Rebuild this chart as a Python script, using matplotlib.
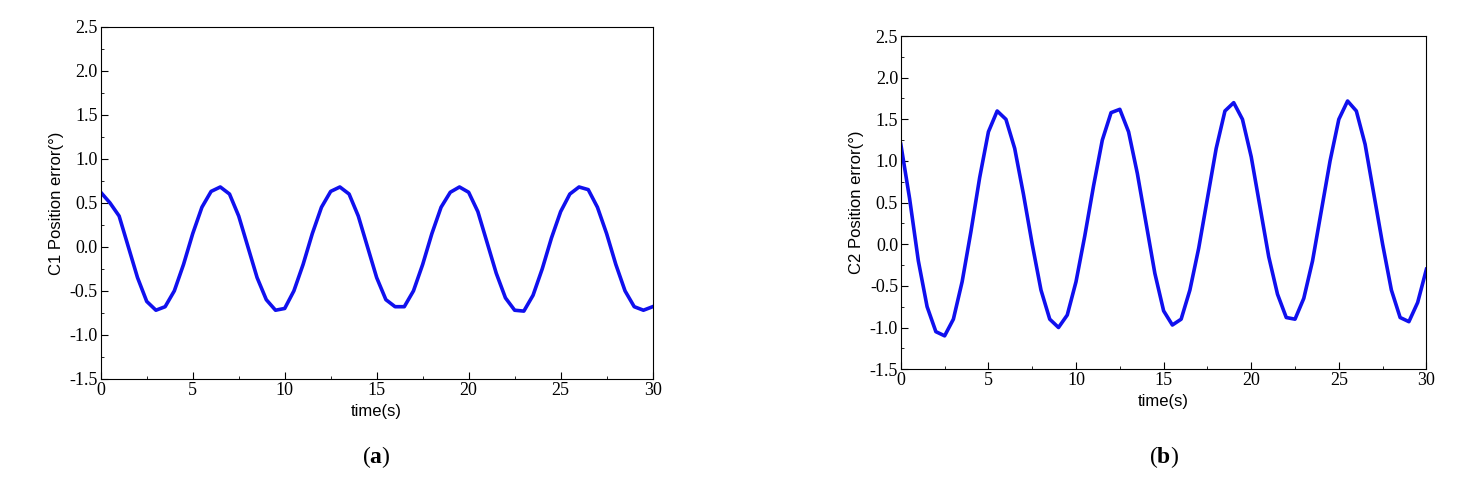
import numpy as np
import matplotlib
matplotlib.use("Agg")
import matplotlib.pyplot as plt
from matplotlib.ticker import FormatStrFormatter, AutoMinorLocator

plt.rcParams['font.family'] = ['Liberation Sans', 'DejaVu Sans']
plt.rcParams['mathtext.fontset'] = 'custom'
plt.rcParams['mathtext.bf'] = 'Liberation Serif:bold'

t = np.arange(0, 30.01, 0.5)
err_c1 = [0.62, 0.5, 0.35, 0.0, -0.35, -0.62, -0.72, -0.68, -0.5, -0.2, 0.15, 0.45, 0.63, 0.68,
          0.6, 0.35, 0.0, -0.35, -0.6, -0.72, -0.7, -0.5, -0.2, 0.15, 0.45, 0.63, 0.68, 0.6,
          0.35, 0.0, -0.35, -0.6, -0.68, -0.68, -0.5, -0.2, 0.15, 0.45, 0.62, 0.68, 0.62, 0.4,
          0.05, -0.3, -0.58, -0.72, -0.73, -0.55, -0.25, 0.1, 0.4, 0.6, 0.68, 0.65, 0.45, 0.15,
          -0.2, -0.5, -0.68, -0.72, -0.68]
err_c2 = [1.2, 0.55, -0.2, -0.75, -1.05, -1.1, -0.9, -0.45, 0.15, 0.8, 1.35, 1.6, 1.5, 1.15,
          0.6, 0.0, -0.55, -0.9, -1.0, -0.85, -0.45, 0.1, 0.7, 1.25, 1.58, 1.62, 1.35, 0.85,
          0.25, -0.35, -0.8, -0.97, -0.9, -0.55, -0.05, 0.55, 1.15, 1.6, 1.7, 1.5, 1.05, 0.45,
          -0.15, -0.6, -0.88, -0.9, -0.65, -0.2, 0.4, 1.0, 1.5, 1.72, 1.6, 1.2, 0.6, 0.0,
          -0.55, -0.88, -0.93, -0.7, -0.3]

fig = plt.figure(figsize=(14.6, 4.87), dpi=100)
ax1 = fig.add_axes([0.069, 0.222, 0.378, 0.723])
ax2 = fig.add_axes([0.617, 0.242, 0.360, 0.684])

for ax, y, name, tag in [(ax1, err_c1, "C1", "a"), (ax2, err_c2, "C2", "b")]:
    ax.plot(t, y, color="#1010ee", lw=2.6, solid_joinstyle="round")
    ax.set_xlim(0, 30)
    ax.set_ylim(-1.5, 2.5)
    ax.set_xticks(np.arange(0, 31, 5))
    ax.set_yticks(np.arange(-1.5, 2.51, 0.5))
    ax.xaxis.set_minor_locator(AutoMinorLocator(2))
    ax.yaxis.set_minor_locator(AutoMinorLocator(2))
    ax.yaxis.set_major_formatter(FormatStrFormatter("%.1f"))
    ax.tick_params(which="both", direction="in", labelsize=13, pad=2)
    ax.tick_params(which="major", length=5)
    ax.tick_params(which="minor", length=2.5)
    for lab in ax.get_xticklabels() + ax.get_yticklabels():
        lab.set_family("Liberation Serif")
    ax.set_xlabel("time(s)", fontsize=12, labelpad=4)
    ax.set_ylabel(name + " Position error(°)", fontsize=12, labelpad=4)
    pos = ax.get_position()
    fig.text(pos.x0 + pos.width / 2, 0.05, "(" + r"$\mathbf{" + tag + "}$" + ")",
             ha="center", fontsize=17, family="Liberation Serif")

fig.savefig("out.png", dpi=100)
